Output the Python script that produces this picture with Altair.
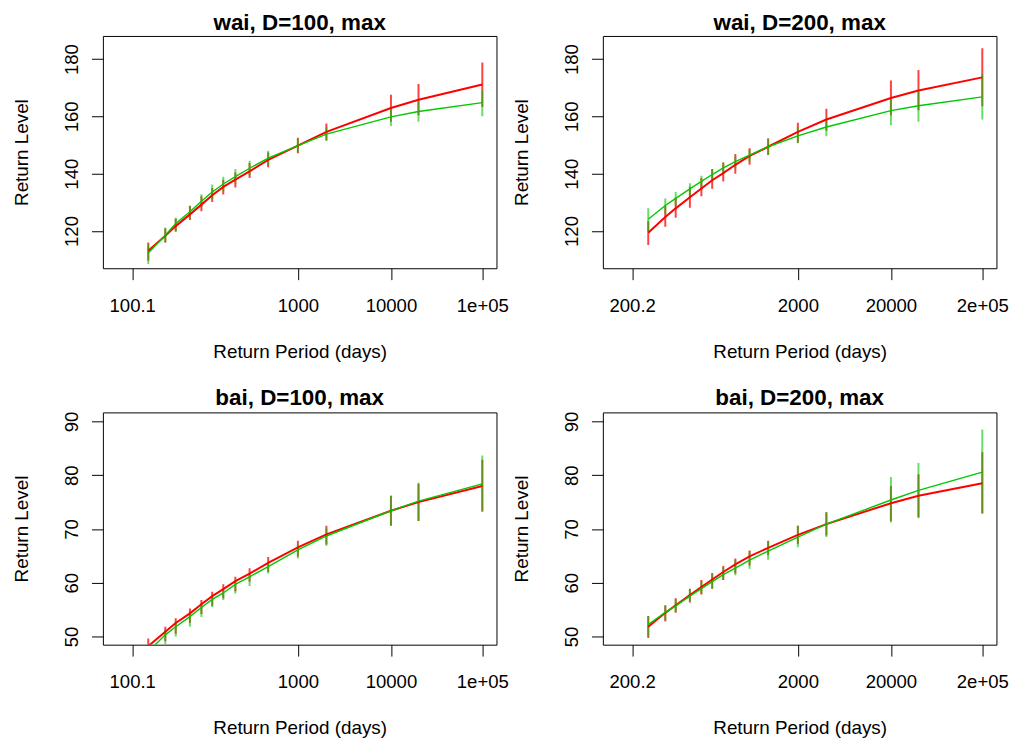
import math
import altair as alt
import pandas as pd

# ---------------- data ----------------
periods_100 = [101.01, 105.26, 111.11, 125.0, 142.86, 166.67, 200.0, 250.0, 333.33,
               500.0, 1000.0, 2000.0, 10000.0, 20000.0, 100000.0]
periods_200 = [202.02, 210.53, 222.22, 250.0, 285.71, 333.33, 400.0, 500.0, 666.67,
               1000.0, 2000.0, 4000.0, 20000.0, 40000.0, 200000.0]

tick_labels_100 = ["100.1", "1000", "10000", "1e+05"]
tick_periods_100 = [100.1, 1000.0, 10000.0, 100000.0]
tick_labels_200 = ["200.2", "2000", "20000", "2e+05"]
tick_periods_200 = [200.2, 2000.0, 20000.0, 200000.0]

# wai, D=100
wai100_red = [113.1, 118.3, 121.7, 125.8, 129.2, 132.5, 135.4, 137.9, 140.8, 144.8, 149.8, 154.6, 162.9, 165.8, 171.1]
wai100_red_lo = [109.6, 116.0, 119.7, 123.8, 126.9, 130.1, 132.7, 135.2, 138.5, 142.2, 147.1, 151.7, 158.1, 160.4, 163.3]
wai100_red_hi = [116.0, 120.9, 124.3, 128.7, 132.1, 135.0, 137.9, 140.4, 143.7, 147.4, 152.5, 157.5, 167.5, 171.3, 178.8]
wai100_green = [112.3, 118.5, 122.6, 126.7, 130.4, 133.6, 136.4, 139.0, 141.9, 145.4, 149.8, 153.8, 159.8, 161.7, 164.8]
wai100_green_lo = [108.5, 116.0, 120.0, 124.4, 128.1, 131.2, 133.9, 136.5, 139.4, 142.7, 147.4, 151.4, 156.6, 158.1, 160.0]
wai100_green_hi = [115.4, 121.2, 124.6, 128.9, 132.8, 136.2, 138.9, 141.6, 144.5, 148.0, 152.3, 156.3, 163.3, 165.6, 169.0]

# wai, D=200
wai200_red = [119.4, 124.9, 127.9, 131.8, 134.8, 137.7, 140.2, 143.1, 146.2, 149.4, 154.6, 158.9, 166.4, 169.0, 173.6]
wai200_red_lo = [115.1, 121.5, 124.6, 128.1, 132.1, 134.7, 137.3, 140.0, 143.1, 146.5, 150.8, 155.0, 160.4, 162.1, 163.5]
wai200_red_hi = [123.5, 128.7, 131.6, 135.4, 138.5, 141.6, 143.9, 146.9, 148.9, 152.3, 157.8, 162.7, 172.5, 176.2, 183.8]
wai200_green = [124.1, 128.9, 131.4, 134.7, 137.3, 139.7, 142.0, 144.2, 146.5, 149.4, 153.2, 156.3, 162.0, 163.7, 166.8]
wai200_green_lo = [120.0, 125.8, 128.7, 131.9, 134.4, 137.0, 139.6, 141.9, 144.2, 146.5, 150.6, 153.1, 156.9, 158.1, 158.9]
wai200_green_hi = [127.9, 131.3, 133.6, 136.7, 139.3, 141.6, 143.9, 146.0, 148.6, 152.3, 156.3, 159.2, 166.7, 168.5, 174.8]

# bai, D=100
bai100_red = [48.2, 50.9, 52.5, 54.3, 56.0, 57.5, 58.8, 60.3, 61.7, 63.7, 66.6, 69.0, 73.4, 75.0, 78.0]
bai100_red_lo = [46.8, 49.1, 50.5, 52.5, 54.2, 55.7, 57.1, 58.4, 60.2, 62.0, 64.9, 67.1, 70.6, 71.5, 73.2]
bai100_red_hi = [49.6, 51.8, 53.4, 55.2, 56.8, 58.3, 59.7, 61.1, 62.7, 64.8, 67.8, 70.6, 76.2, 78.4, 82.9]
bai100_green = [47.2, 50.3, 51.8, 53.7, 55.4, 56.9, 58.1, 59.7, 61.1, 63.0, 66.1, 68.7, 73.4, 75.2, 78.4]
bai100_green_lo = [45.8, 48.6, 50.0, 51.8, 53.6, 55.5, 56.8, 58.0, 59.4, 61.7, 64.5, 66.9, 70.6, 71.5, 73.4]
bai100_green_hi = [48.5, 51.2, 52.8, 54.5, 56.2, 57.7, 58.9, 60.5, 61.8, 63.8, 67.1, 70.1, 76.2, 78.6, 83.7]

# bai, D=200
bai200_red = [51.8, 54.4, 55.8, 57.7, 59.2, 60.6, 62.0, 63.4, 64.9, 66.5, 68.9, 70.9, 74.8, 76.2, 78.5]
bai200_red_lo = [49.7, 52.8, 54.4, 56.3, 57.8, 58.9, 60.5, 61.7, 63.2, 65.1, 67.2, 68.8, 71.5, 72.2, 72.9]
bai200_red_hi = [53.8, 55.8, 57.1, 58.9, 60.5, 61.8, 63.1, 64.5, 66.0, 67.8, 70.6, 73.1, 78.0, 80.2, 84.3]
bai200_green = [52.2, 54.5, 55.7, 57.5, 58.9, 60.2, 61.5, 62.7, 64.2, 65.9, 68.5, 70.9, 75.4, 77.2, 80.6]
bai200_green_lo = [50.0, 53.0, 54.5, 56.5, 57.9, 58.9, 60.5, 61.4, 62.6, 64.3, 66.6, 68.5, 71.2, 72.0, 72.9]
bai200_green_hi = [53.8, 55.7, 57.0, 58.8, 60.3, 61.6, 62.9, 64.3, 65.9, 67.7, 70.6, 73.1, 79.7, 82.3, 88.5]

wai_ticks = [120, 140, 160, 180]
bai_ticks = [50, 60, 70, 80, 90]

# ---------------- styling ----------------
FONT = "Liberation Sans"
W, H = 397, 234.3
RED = "#FF0000"
GREEN = "#00C800"
X_DOMAIN = [0.06902, 1428.9]
WAI_DOMAIN = [107.0, 188.06]
BAI_DOMAIN = [48.47, 91.7]


def panel(title, D, periods, red, red_lo, red_hi, green, green_lo, green_hi,
          tick_periods, tick_labels, y_domain, y_ticks):
    rows = []
    for s, v, lo, hi in (("red", red, red_lo, red_hi), ("green", green, green_lo, green_hi)):
        for T, a, b, c in zip(periods, v, lo, hi):
            rows.append({"series": s, "T": T, "val": a, "lo": b, "hi": c})
    df = pd.DataFrame(rows)

    tick_vals = [-1.0 / math.log(1.0 - D / t) for t in tick_periods]
    expr = "'" + tick_labels[-1] + "'"
    for i in range(len(tick_vals) - 2, -1, -1):
        mid = math.sqrt(tick_vals[i] * tick_vals[i + 1])
        expr = f"datum.value < {mid} ? '{tick_labels[i]}' : ({expr})"

    xenc = alt.X(
        "xt:Q",
        scale=alt.Scale(type="log", domain=X_DOMAIN, nice=False),
        axis=alt.Axis(
            values=tick_vals, labelExpr=expr, grid=False, domain=False,
            tickSize=11.5, tickColor="black", tickWidth=1,
            labelFont=FONT, labelFontSize=18.7, labelColor="black",
            labelBaseline="alphabetic", labelAlign="center", labelPadding=32,
            labelFlush=False, labelOverlap=False, labelAngle=0,
            title="Return Period (days)", titleFont=FONT, titleFontSize=19,
            titleFontWeight="normal", titleColor="black",
            titleBaseline="alphabetic", titleAlign="center",
            titleX=W / 2, titleY=89.7,
        ),
    )
    yaxis = alt.Axis(
        values=y_ticks, grid=False, domain=False,
        tickSize=11.5, tickColor="black", tickWidth=1,
        labelFont=FONT, labelFontSize=18.7, labelColor="black",
        labelAngle=270, labelAlign="center", labelBaseline="alphabetic",
        labelPadding=14, labelOverlap=False, labelFlush=False,
        title="Return Level", titleFont=FONT, titleFontSize=19,
        titleFontWeight="normal", titleColor="black", titleAngle=270,
        titleBaseline="alphabetic", titleAlign="center",
        titleX=-76, titleY=H / 2,
    )
    yscale = alt.Scale(domain=y_domain, nice=False, zero=False)

    base = alt.Chart(df).transform_calculate(xt=f"-1/log(1 - {D}/datum.T)")

    bars_red = base.transform_filter("datum.series == 'red'").mark_rule(
        clip=True, strokeWidth=2, opacity=0.75, color=RED
    ).encode(x=xenc, y=alt.Y("lo:Q", scale=yscale, axis=yaxis), y2="hi:Q")
    bars_green = base.transform_filter("datum.series == 'green'").mark_rule(
        clip=True, strokeWidth=2, opacity=0.6, color=GREEN
    ).encode(x=xenc, y=alt.Y("lo:Q", scale=yscale, axis=yaxis), y2="hi:Q")
    line_red = base.transform_filter("datum.series == 'red'").mark_line(
        clip=True, strokeWidth=2, color=RED
    ).encode(x=xenc, y=alt.Y("val:Q", scale=yscale, axis=yaxis), order="T:Q")
    line_green = base.transform_filter("datum.series == 'green'").mark_line(
        clip=True, strokeWidth=1.4, color=GREEN
    ).encode(x=xenc, y=alt.Y("val:Q", scale=yscale, axis=yaxis), order="T:Q")

    return alt.layer(bars_red, bars_green, line_red, line_green).properties(
        width=W, height=H,
        title=alt.TitleParams(
            text=title, font=FONT, fontSize=22.6, fontWeight="bold", color="black",
            anchor="middle", frame="group", baseline="alphabetic", offset=-16.6,
        ),
    )


p1 = panel("wai, D=100, max", 100, periods_100, wai100_red, wai100_red_lo, wai100_red_hi,
           wai100_green, wai100_green_lo, wai100_green_hi, tick_periods_100, tick_labels_100,
           WAI_DOMAIN, wai_ticks)
p2 = panel("wai, D=200, max", 200, periods_200, wai200_red, wai200_red_lo, wai200_red_hi,
           wai200_green, wai200_green_lo, wai200_green_hi, tick_periods_200, tick_labels_200,
           WAI_DOMAIN, wai_ticks)
p3 = panel("bai, D=100, max", 100, periods_100, bai100_red, bai100_red_lo, bai100_red_hi,
           bai100_green, bai100_green_lo, bai100_green_hi, tick_periods_100, tick_labels_100,
           BAI_DOMAIN, bai_ticks)
p4 = panel("bai, D=200, max", 200, periods_200, bai200_red, bai200_red_lo, bai200_red_hi,
           bai200_green, bai200_green_lo, bai200_green_hi, tick_periods_200, tick_labels_200,
           BAI_DOMAIN, bai_ticks)

chart = alt.concat(
    p1, p2, p3, p4, columns=2, spacing={"row": 144.7, "column": 107.3}, bounds="flush"
).configure(
    padding={"left": 3.7, "top": 0, "right": 5, "bottom": 5},
    background="white",
).configure_view(stroke="black", strokeWidth=1)

chart.save("out.html", embed_options={"renderer": "svg", "actions": False})
